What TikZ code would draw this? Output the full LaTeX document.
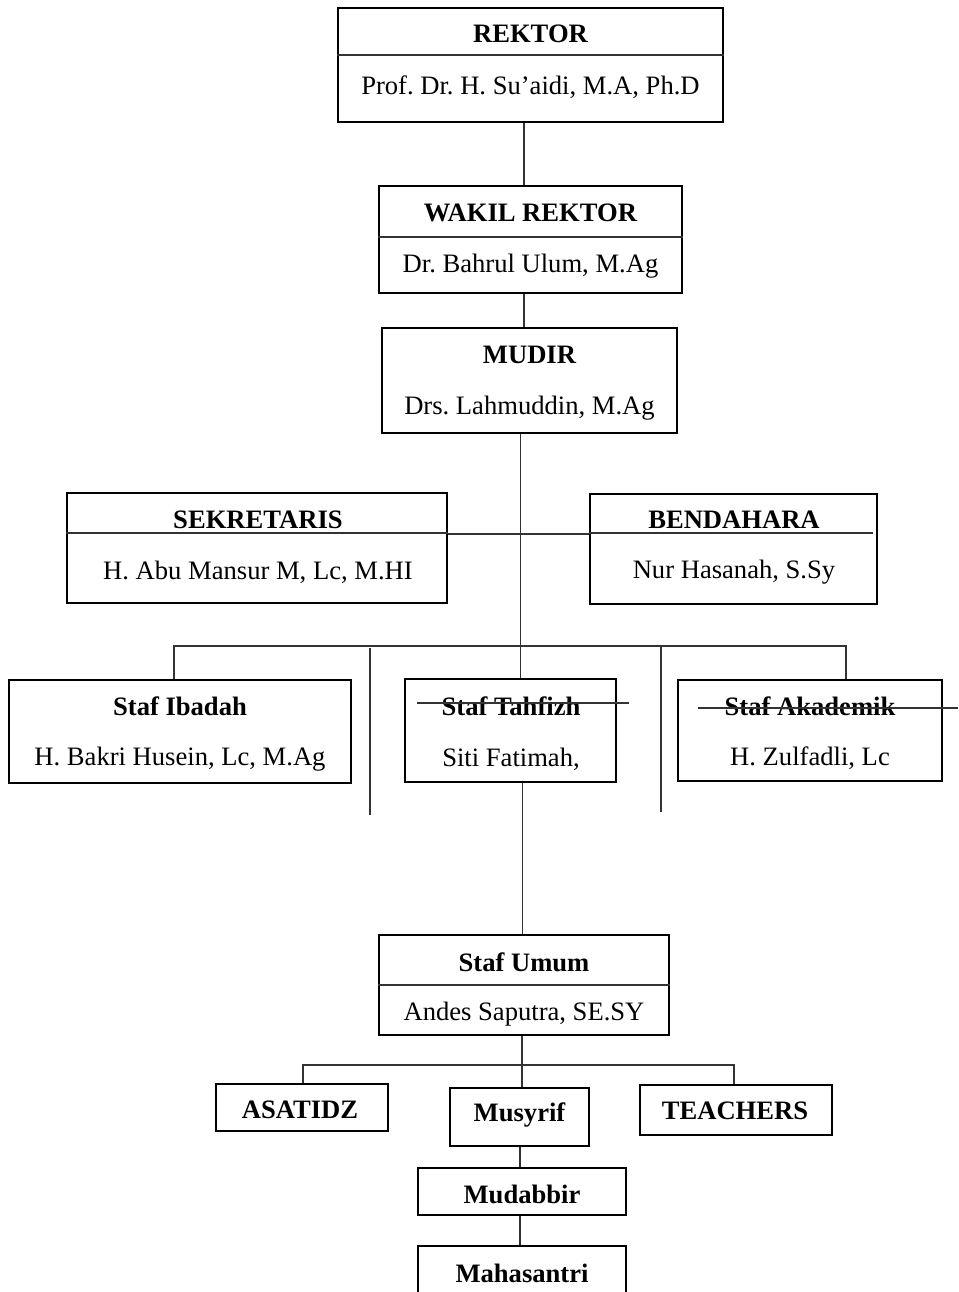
\documentclass[tikz,border=0pt]{standalone}
\usepackage{fontspec}
\setmainfont{Liberation Serif}
\frenchspacing
\begin{document}
\begin{tikzpicture}[x=1pt,y=-1pt,
  box/.style={draw=black, line width=1.7pt, inner sep=0pt, rectangle},
  conn/.style={draw=black!80, line width=1.3pt},
  ttl/.style={font=\fontsize{26.6pt}{30pt}\selectfont\frenchspacing\bfseries, inner sep=0pt},
  nm/.style={font=\fontsize{26.6pt}{30pt}\selectfont\frenchspacing, inner sep=0pt}]
\useasboundingbox (0,0) rectangle (958,1292);
\clip (0,0) rectangle (958,1292);
% boxes
\node[box, minimum width=385pt, minimum height=114pt] (rektor) at (530.5,65) {};
\node[box, minimum width=303pt, minimum height=107pt] (wakil) at (530.5,239.5) {};
\node[box, minimum width=295pt, minimum height=105pt] (mudir) at (529.5,380.5) {};
\node[box, minimum width=380pt, minimum height=110pt] (sekr) at (257,548) {};
\node[box, minimum width=287pt, minimum height=110pt] (bend) at (733.5,549) {};
\node[box, minimum width=342pt, minimum height=103pt] (ibadah) at (180,731.5) {};
\node[box, minimum width=211pt, minimum height=103pt] (tahfizh) at (510.5,730.5) {};
\node[box, minimum width=264pt, minimum height=101pt] (akad) at (810,730.5) {};
\node[box, minimum width=290pt, minimum height=100pt] (umum) at (524,985) {};
\node[box, minimum width=172pt, minimum height=47pt] (asatidz) at (302,1107.5) {};
\node[box, minimum width=139pt, minimum height=58pt] (musyrif) at (519.5,1117) {};
\node[box, minimum width=192pt, minimum height=50pt] (teach) at (736,1110) {};
\node[box, minimum width=208pt, minimum height=47pt] (mudab) at (522,1191.5) {};
\node[box, minimum width=208pt, minimum height=64pt] (maha) at (522,1278) {};
% dividers
\coordinate (d1) at (0,55);
\coordinate (d2) at (0,237);
\coordinate (d3) at (0,533);
\coordinate (d4) at (873,533);
\coordinate (d5) at (0,985);
\draw[conn] (rektor.west |- d1) -- (rektor.east |- d1);
\draw[conn] (wakil.west |- d2) -- (wakil.east |- d2);
\draw[conn] (sekr.west |- d3) -- (sekr.east |- d3);
\draw[conn] (bend.west |- d3) -- (d4);
\draw[conn] (umum.west |- d5) -- (umum.east |- d5);
% texts
\node[ttl] (t-rektor) at (530.5,34) {REKTOR};
\node[nm] (n-rektor) at (530.5,87) {Prof. Dr. H. Su’aidi, M.A, Ph.D};
\node[ttl] (t-wakil) at (530.5,213) {WAKIL REKTOR};
\node[nm] (n-wakil) at (530.5,266) {Dr. Bahrul Ulum, M.Ag};
\node[ttl] (t-mudir) at (529.5,355) {MUDIR};
\node[nm] (n-mudir) at (529.5,408) {Drs. Lahmuddin, M.Ag};
\node[ttl] (t-sekr) at (258,520) {SEKRETARIS};
\node[nm] (n-sekr) at (258,572) {H. Abu Mansur M, Lc, M.HI};
\node[ttl] (t-bend) at (734,520) {BENDAHARA};
\node[nm] (n-bend) at (734,572) {Nur Hasanah, S.Sy};
\node[ttl] (t-ibadah) at (180,706) {Staf Ibadah};
\node[nm] (n-ibadah) at (180,759) {H. Bakri Husein, Lc, M.Ag};
\node[ttl] (t-tahfizh) at (511,706) {Staf Tahfizh};
\node[nm] (n-tahfizh) at (511,759) {Siti Fatimah,};
\node[ttl] (t-akad) at (810,706) {Staf Akademik};
\node[nm] (n-akad) at (810,758) {H. Zulfadli, Lc};
\node[ttl] (t-umum) at (524,962) {Staf Umum};
\node[nm] (n-umum) at (524,1014) {Andes Saputra, SE.SY};
\node[ttl] (t-asatidz) at (300,1110) {ASATIDZ};
\node[ttl] (t-musyrif) at (519.5,1115) {Musyrif};
\node[ttl] (t-teach) at (735,1111) {TEACHERS};
\node[ttl] (t-mudab) at (522,1194) {Mudabbir};
\node[ttl] (t-maha) at (522,1273) {Mahasantri};
% strike lines
\coordinate (s1) at (417,703);
\coordinate (s2) at (629,703);
\coordinate (s3) at (698,708);
\coordinate (s4) at (958,708);
\draw[conn] (s1) -- (s2);
\draw[conn] (s3) -- (s4);
% connectors
\coordinate (xa) at (524,0);
\coordinate (xb) at (520.5,0);
\coordinate (xc) at (522.5,0);
\coordinate (xd) at (522,0);
\coordinate (xe) at (520,0);
\draw[conn] (rektor.south -| xa) -- (wakil.north -| xa);
\draw[conn] (wakil.south -| xa) -- (mudir.north -| xa);
\draw[conn] (mudir.south -| xb) -- (tahfizh.north -| xb);
\coordinate (ym) at (0,534);
\draw[conn] (sekr.east |- ym) -- (bend.west |- ym);
\coordinate (t1) at (174,646);
\coordinate (t3) at (846,646);
\draw[conn] (ibadah.north -| t1) -- (t1) -- (t3) -- (akad.north -| t3);
\coordinate (v1a) at (370,648);
\coordinate (v1b) at (370,815);
\coordinate (v2a) at (661,645);
\coordinate (v2b) at (661,812);
\draw[conn] (v1a) -- (v1b);
\draw[conn] (v2a) -- (v2b);
\draw[conn] (tahfizh.south -| xc) -- (umum.north -| xc);
\coordinate (u1) at (303,1065);
\coordinate (u3) at (734,1065);
\coordinate (ub) at (522,1065);
\draw[conn] (umum.south -| xd) -- (ub);
\draw[conn] (asatidz.north -| u1) -- (u1) -- (u3) -- (teach.north -| u3);
\draw[conn] (ub) -- (musyrif.north -| ub);
\draw[conn] (musyrif.south -| xe) -- (mudab.north -| xe);
\draw[conn] (mudab.south -| xe) -- (maha.north -| xe);
\end{tikzpicture}
\end{document}
